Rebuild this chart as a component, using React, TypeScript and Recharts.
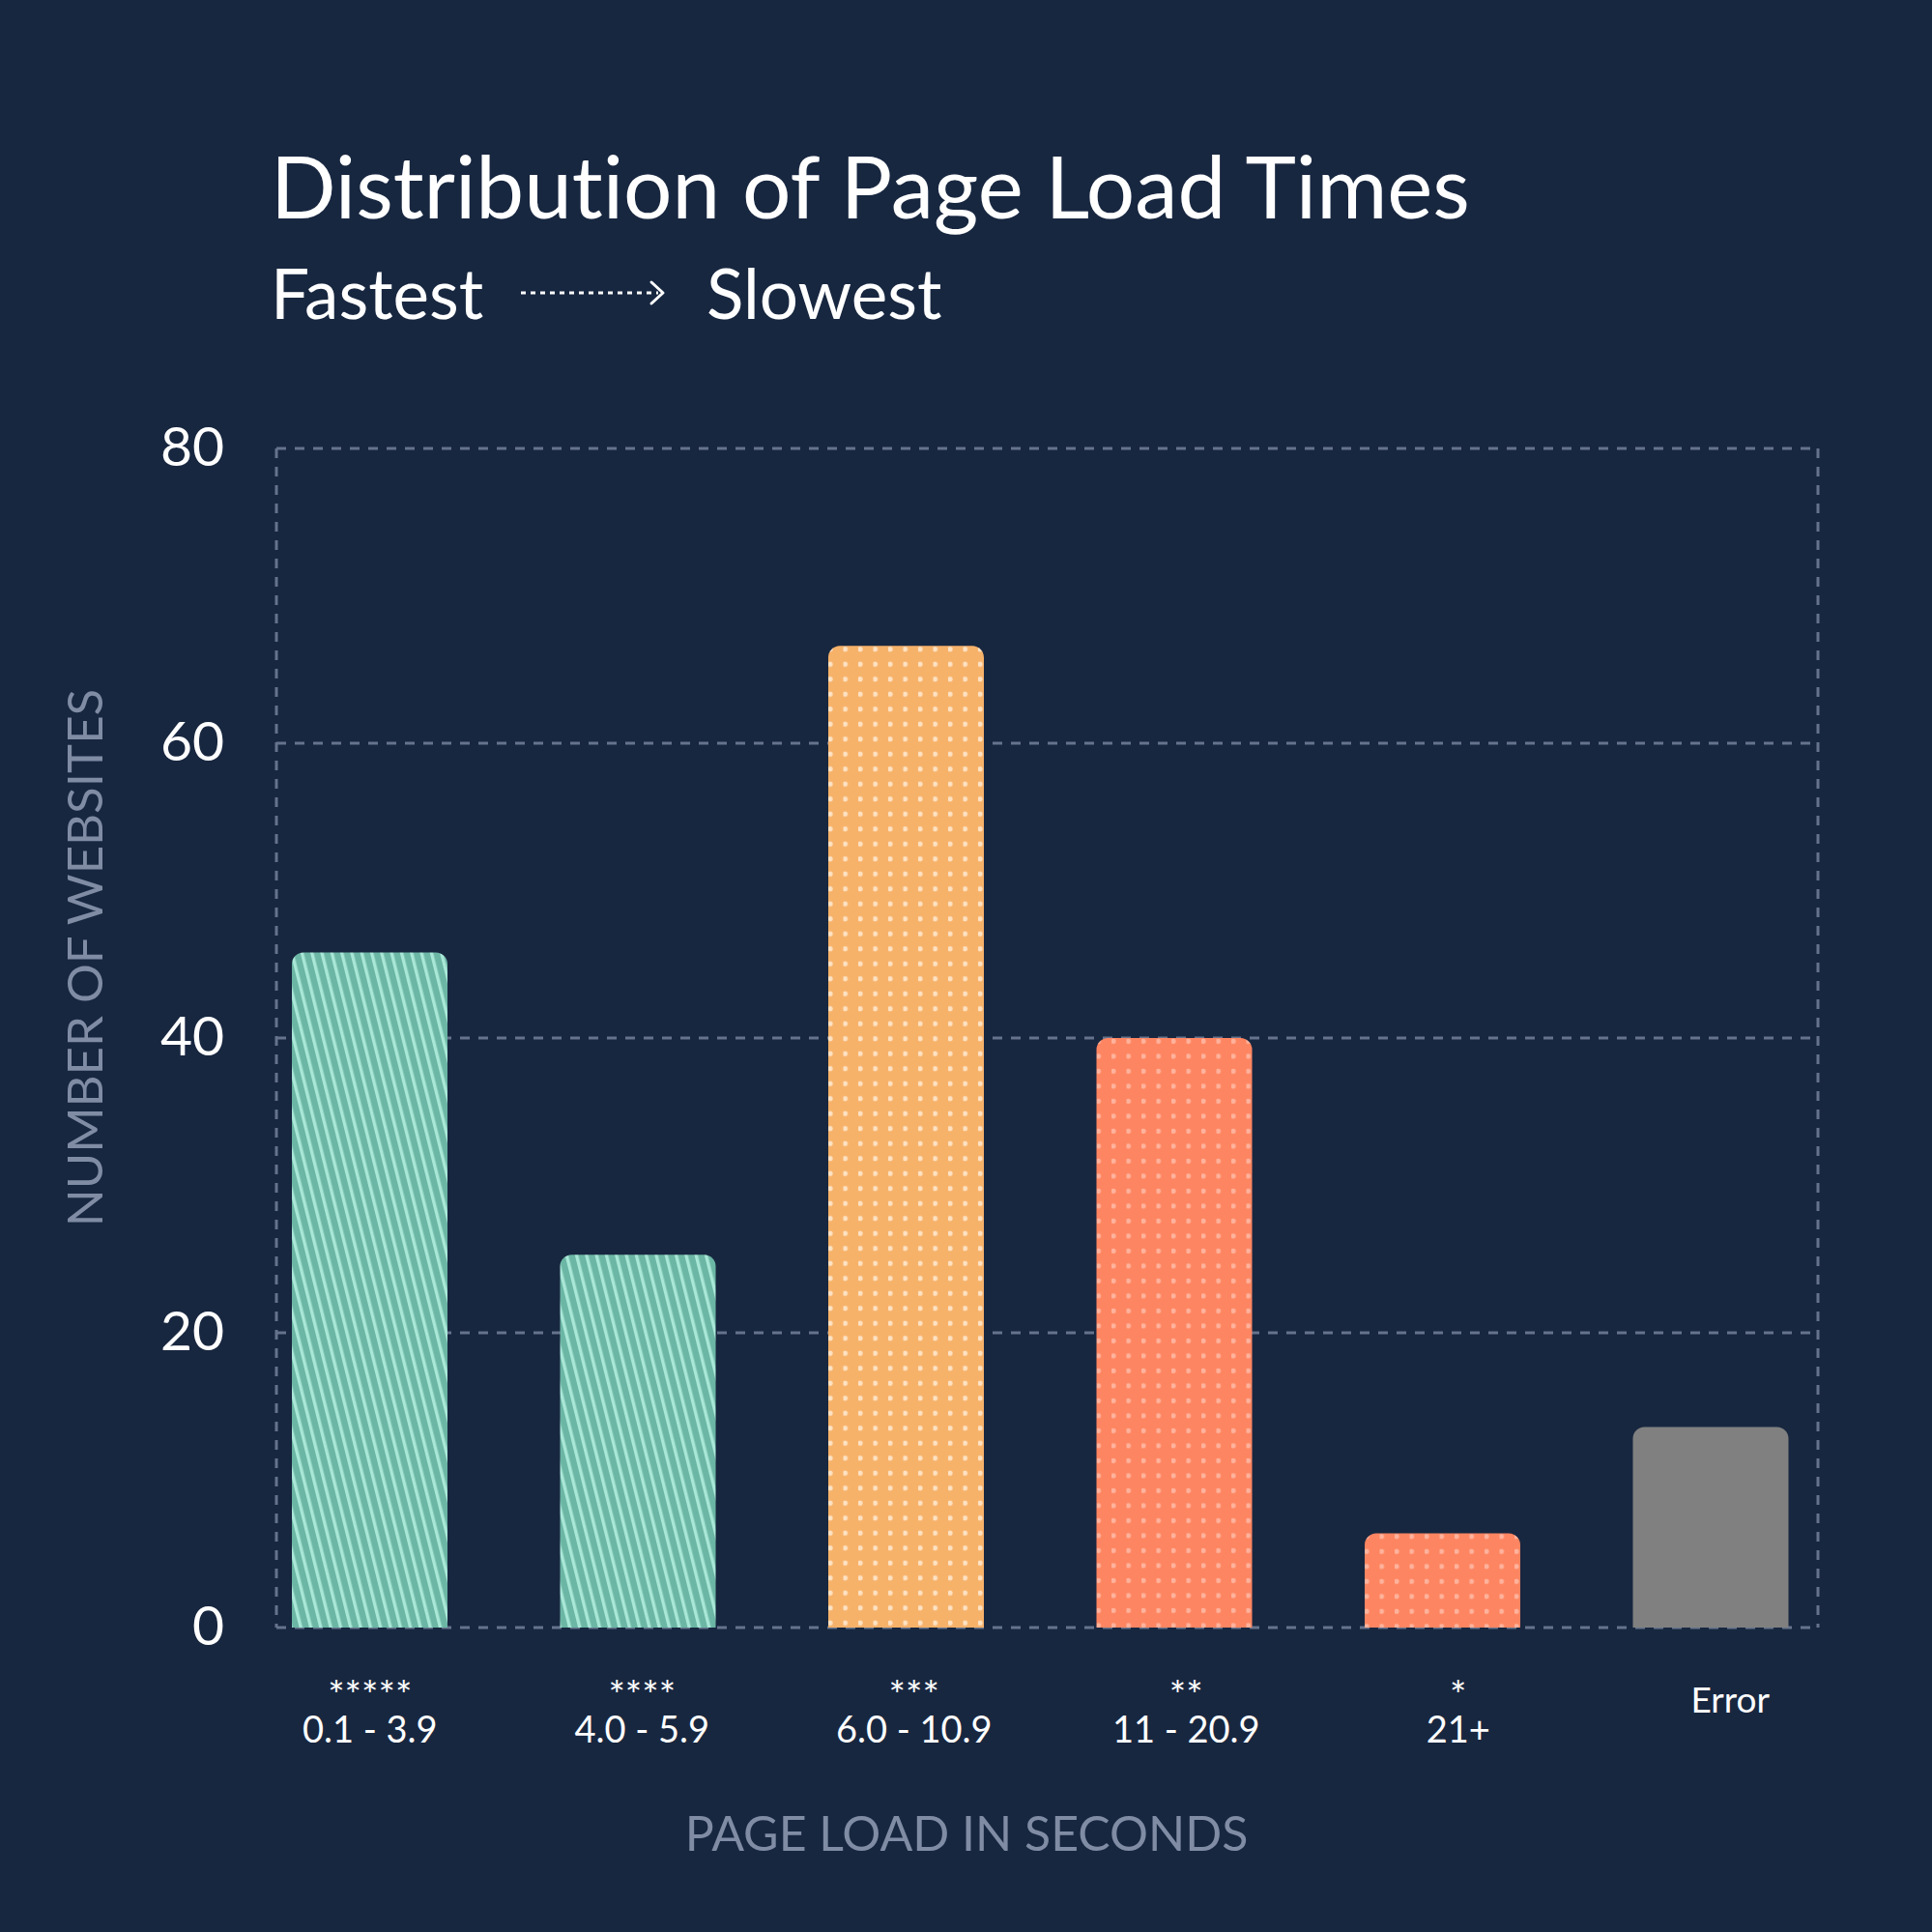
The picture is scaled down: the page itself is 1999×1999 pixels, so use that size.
import React from 'react';
import { BarChart, Bar, XAxis, YAxis, CartesianGrid } from 'recharts';

// ---- data ----
const categories = ['0.1 - 3.9', '4.0 - 5.9', '6.0 - 10.9', '11 - 20.9', '21+', 'Error'];
const ratings = ['*****', '****', '***', '**', '*', ''];
const websiteCounts = [45.8, 25.3, 66.6, 40, 6.4, 13.6];
const yTicks = [0, 20, 40, 60, 80];

const chartData = categories.map((c, i) => ({ range: c, rating: ratings[i], count: websiteCounts[i] }));

// ---- styles ----
const BG = '#182740';
const GRID = '#65738c';
const MUTED = '#7f8ca4';
const FONT = "Lato, 'Noto Sans', sans-serif";

type BarStyle = { kind: 'stripe' | 'dot' | 'solid'; bg: string; fg: string };
const BAR_STYLES: BarStyle[] = [
  { kind: 'stripe', bg: '#6bb6a4', fg: '#a9e7d7' },
  { kind: 'stripe', bg: '#6bb6a4', fg: '#a9e7d7' },
  { kind: 'dot', bg: '#f7b26a', fg: '#fde2c3' },
  { kind: 'dot', bg: '#fe8561', fg: '#ffb29c' },
  { kind: 'dot', bg: '#fe8561', fg: '#ffb29c' },
  { kind: 'solid', bg: '#808080', fg: '#808080' },
];

function PatternBar(props: any) {
  const { x, y, width, height, index } = props;
  if (!height || height <= 0) return null;
  const st = BAR_STYLES[index] || BAR_STYLES[0];
  const r = Math.min(12, height, width / 2);
  const d = `M${x},${y + height} L${x},${y + r} A${r},${r} 0 0 1 ${x + r},${y} L${x + width - r},${y} A${r},${r} 0 0 1 ${x + width},${y + r} L${x + width},${y + height} Z`;
  const pid = `barpat-${index}`;
  let pattern: React.ReactNode = null;
  if (st.kind === 'stripe') {
    pattern = (
      <pattern id={pid} patternUnits="userSpaceOnUse" width={10} height={20} patternTransform="rotate(-14)">
        <rect width={10} height={20} fill={st.bg} />
        <rect x={3} width={3.4} height={20} fill={st.fg} />
      </pattern>
    );
  } else if (st.kind === 'dot') {
    pattern = (
      <pattern id={pid} patternUnits="userSpaceOnUse" x={x} y={y} width={15.5} height={15.5}>
        <rect width={15.5} height={15.5} fill={st.bg} />
        <circle cx={2} cy={3.4} r={2.6} fill={st.fg} />
      </pattern>
    );
  }
  return (
    <g>
      {pattern && <defs>{pattern}</defs>}
      <path d={d} fill={pattern ? `url(#${pid})` : st.bg} />
    </g>
  );
}

function XTick(props: any) {
  const { x, y, payload, index } = props;
  const i = typeof index === 'number' ? index : categories.indexOf(payload.value);
  const cx = x + i * 4;
  const rating = ratings[i];
  if (!rating) {
    return (
      <text x={cx} y={y + 88} textAnchor="middle" fill="#ffffff" fontSize={37} fontFamily={FONT}>
        {payload.value}
      </text>
    );
  }
  return (
    <text textAnchor="middle" fill="#ffffff" fontFamily={FONT}>
      <tspan x={cx} y={y + 85} fontSize={41}>
        {rating}
      </tspan>
      <tspan x={cx} y={y + 119} fontSize={38}>
        {payload.value}
      </tspan>
    </text>
  );
}

function YTick(props: any) {
  const { x, y, payload } = props;
  return (
    <text x={x} y={y} dy={18} textAnchor="end" fill="#ffffff" fontSize={57} fontFamily={FONT}>
      {payload.value}
    </text>
  );
}

export default function App() {
  return (
    <div style={{ position: 'absolute', left: 0, top: 0, width: 1999, height: 1999, background: BG, overflow: 'hidden' }}>
      <div style={{ position: 'absolute', left: 0, top: 0 }}>
        <BarChart
          width={1999}
          height={1999}
          data={chartData}
          margin={{ top: 464, right: 118, bottom: 0, left: 0 }}
          barCategoryGap={0}
        >
          <CartesianGrid
            stroke={GRID}
            strokeWidth={3}
            strokeDasharray="10 9"
            verticalCoordinatesGenerator={({ offset }: any) => [offset.left, offset.left + offset.width]}
          />
          <XAxis
            dataKey="range"
            axisLine={false}
            tickLine={false}
            tickSize={0}
            tickMargin={0}
            interval={0}
            height={315}
            padding={{ left: -42, right: -28 }}
            tick={<XTick />}
          />
          <YAxis
            domain={[0, 80]}
            ticks={yTicks}
            width={286}
            axisLine={false}
            tickLine={false}
            tickSize={0}
            tickMargin={54}
            tick={<YTick />}
          />
          <Bar dataKey="count" barSize={161} shape={<PatternBar />} isAnimationActive={false} />
        </BarChart>
      </div>
      <svg width={1999} height={1999} style={{ position: 'absolute', left: 0, top: 0, pointerEvents: 'none' }}>
        <text x={280} y={226} fill="#ffffff" fontSize={89} fontFamily={FONT} style={{ fontVariantLigatures: 'none' }}>
          Distribution of Page Load Times
        </text>
        <text x={280} y={330} fill="#ffffff" fontSize={71} fontFamily={FONT}>
          Fastest
        </text>
        <line x1={539} y1={303} x2={681} y2={303} stroke="#ffffff" strokeWidth={3} strokeDasharray="5 5" />
        <polyline points="674,292 686,303 674,314" fill="none" stroke="#ffffff" strokeWidth={3} strokeLinecap="round" strokeLinejoin="round" />
        <text x={731} y={330} fill="#ffffff" fontSize={71} fontFamily={FONT}>
          Slowest
        </text>
        <text
          transform={`translate(${88 + 18} 991) rotate(-90)`}
          textAnchor="middle"
          fill={MUTED}
          fontSize={51}
          fontFamily={FONT}
        >
          NUMBER OF WEBSITES
        </text>
        <text x={1000} y={1915} textAnchor="middle" fill={MUTED} fontSize={50} fontFamily={FONT}>
          PAGE LOAD IN SECONDS
        </text>
      </svg>
    </div>
  );
}
